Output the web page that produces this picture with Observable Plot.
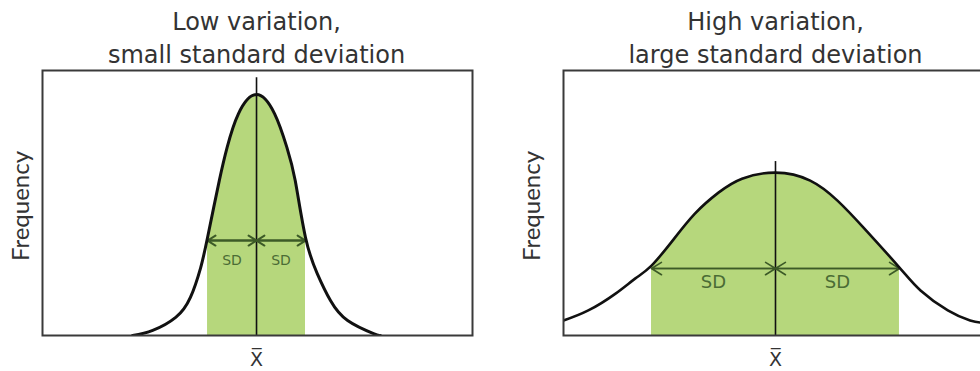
<!DOCTYPE html>
<html><head><meta charset="utf-8">
<script src="https://cdn.jsdelivr.net/npm/d3@7"></script>
<script src="https://cdn.jsdelivr.net/npm/@observablehq/plot@0.6"></script>
<style>
html,body{margin:0;padding:0;background:#fff;overflow:hidden}
#wrap{position:relative;width:980px;height:371px;overflow:hidden;background:#fff}
#left{position:absolute;left:0;top:0;width:490px;height:371px}
#right{position:absolute;left:490px;top:0;width:520px;height:371px}
#wrap svg{max-width:none !important;display:block}
</style></head><body>
<div id="wrap"><div id="left"></div><div id="right"></div></div>
<script>
// ---- data (x in SD units from the mean, y relative frequency) ----
const titles = ["Low variation,\nsmall standard deviation", "High variation,\nlarge standard deviation"];
const yLabel = "Frequency";
const meanLabel = "X\u0305";
const sdLabels = ["SD", "SD"];
const sdLabelX = [-0.5, 0.5];
const sdBand = [-1, 1];

const lowX = [-2.53, -2.12, -1.65, -1.35, -1.14, -1.0, -0.76, -0.6, -0.37, 0, 0.37, 0.62, 0.79, 1.0, 1.24, 1.51, 1.86, 2.39, 2.53];
const lowY = [0, 0.021, 0.075, 0.158, 0.282, 0.407, 0.643, 0.781, 0.92, 1.0, 0.92, 0.781, 0.643, 0.407, 0.257, 0.145, 0.062, 0.008, 0];

const highX = [-1.71, -1.51, -1.29, -1.13, -1.0, -0.83, -0.65, -0.46, -0.27, 0, 0.28, 0.5, 0.71, 1.0, 1.17, 1.39, 1.57, 1.65];
const highY = [0.062, 0.104, 0.174, 0.237, 0.29, 0.394, 0.506, 0.593, 0.651, 0.676, 0.643, 0.56, 0.448, 0.282, 0.187, 0.104, 0.062, 0.054];

const meanLineTop = [1.07, 0.722];
const arrowLevel = [0.394, 0.278];

const GREEN = "#b6d77c";
const DARK = "#3c5a27";
const SDTEXT = "#4b6c35";
const INK = "#333";

function panel(o) {
  const pts = o.xs.map((x, i) => ({x, y: o.ys[i]}));
  const band = pts.filter(d => d.x >= sdBand[0] && d.x <= sdBand[1]);
  const segs = [];
  for (const [a, b] of [[sdBand[0], 0], [0, sdBand[1]]]) {
    segs.push({x1: a, x2: b, y: o.arrowY});
    segs.push({x1: b, x2: a, y: o.arrowY});
  }
  return Plot.plot({
    width: o.width, height: 371,
    marginLeft: o.ml, marginRight: o.mr, marginTop: 70, marginBottom: 36,
    x: {domain: o.xDomain, axis: null},
    y: {domain: [0, 1.1], axis: null},
    style: {background: "transparent", overflow: "visible"},
    marks: [
      Plot.areaY(band, {x: "x", y: "y", fill: GREEN, curve: "natural", clip: true}),
      Plot.ruleX([0], {y1: 0, y2: o.meanTop, stroke: "#111", strokeWidth: 1.6}),
      Plot.arrow(segs, {x1: "x1", x2: "x2", y1: "y", y2: "y", stroke: DARK, strokeWidth: o.aw, headLength: o.hl, headAngle: 64}),
      Plot.line(pts, {x: "x", y: "y", stroke: "#111", strokeWidth: o.lw, curve: "natural", clip: true}),
      Plot.frame({stroke: "#3a3a3a", strokeWidth: 2}),
      Plot.text(sdLabelX, {x: d => d, y: o.arrowY, text: (d, i) => sdLabels[i], dy: o.sdDy, fill: SDTEXT, fontSize: o.sdSize, fontFamily: "DejaVu Sans", lineAnchor: "middle"}),
      Plot.text([{t: o.title, x: 0}], {x: "x", text: "t", frameAnchor: "top", lineAnchor: "bottom", dy: -8, lineHeight: 1.35, fontSize: 24, fontFamily: "DejaVu Sans", fill: INK}),
      Plot.text([yLabel], {frameAnchor: "left", text: d => d, rotate: -90, textAnchor: "middle", dx: o.fdx, dy: 3, fontSize: 24, fontFamily: "Lato", fill: INK, lineAnchor: "middle"}),
      Plot.text([{t: meanLabel, x: 0}], {x: "x", text: "t", frameAnchor: "bottom", lineAnchor: "top", dy: 17, fontSize: 19, fontFamily: "DejaVu Sans", fill: INK})
    ]
  });
}

document.getElementById("left").appendChild(panel({
  xs: lowX, ys: lowY, xDomain: [-4.37, 4.41], width: 490, ml: 42, mr: 18,
  meanTop: meanLineTop[0], arrowY: arrowLevel[0], aw: 2, hl: 7, lw: 3,
  sdDy: 20, sdSize: 14, title: titles[0], fdx: -21
}));
document.getElementById("right").appendChild(panel({
  xs: highX, ys: highY, xDomain: [-1.71, 1.815], width: 520, ml: 73, mr: 10,
  meanTop: meanLineTop[1], arrowY: arrowLevel[1], aw: 1.6, hl: 11, lw: 2.6,
  sdDy: 14, sdSize: 18, title: titles[1], fdx: -31
}));
</script>
</body></html>
